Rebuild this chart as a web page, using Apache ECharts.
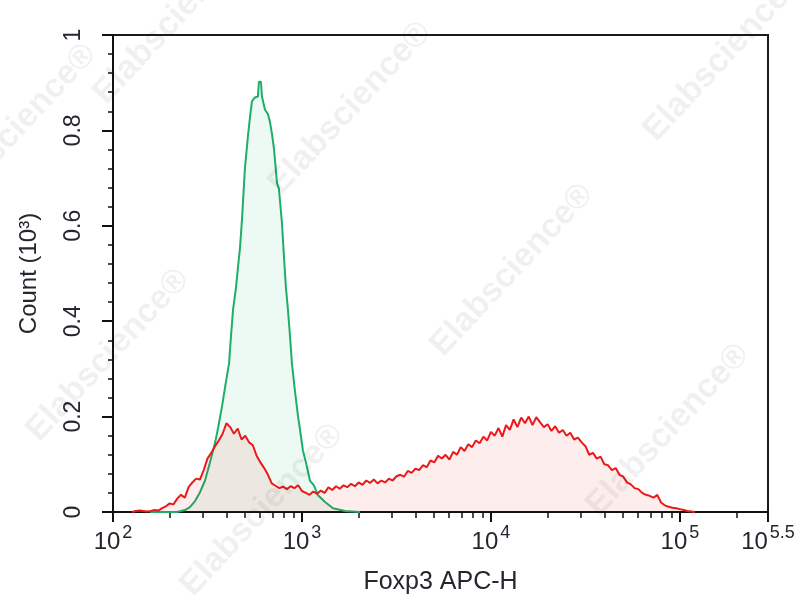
<!DOCTYPE html>
<html><head><meta charset="utf-8">
<script src="https://cdn.jsdelivr.net/npm/echarts@6/dist/echarts.min.js"></script>
<style>html,body{margin:0;padding:0;background:#fff}#c{width:804px;height:600px}</style>
</head><body><div id="c"></div>
<script>
// x positions are log10 of Foxp3 APC-H intensity
const X_MIN = 2;
const X_MAX = 5.466;           // right frame edge, labelled 10^5.5 in the reference
const xTickExponents = [2, 3, 4, 5, 5.466];
const xTickLabels = ['2', '3', '4', '5', '5.5'];
const yTickValues = [0, 0.2, 0.4, 0.6, 0.8, 1];

// isotype / control histogram (green)
const greenX = [2.196, 2.339, 2.381, 2.407, 2.434, 2.460, 2.487, 2.513, 2.540, 2.556, 2.577, 2.598, 2.614, 2.624, 2.635, 2.651, 2.661, 2.672, 2.683, 2.698, 2.714, 2.725, 2.735, 2.751, 2.767, 2.772, 2.783, 2.788, 2.804, 2.820, 2.831, 2.841, 2.852, 2.868, 2.878, 2.884, 2.894, 2.905, 2.915, 2.926, 2.937, 2.947, 2.963, 2.979, 2.989, 3.005, 3.021, 3.042, 3.063, 3.085, 3.122, 3.164, 3.228, 3.307];
const greenY = [0, 0, 0.004, 0.010, 0.023, 0.041, 0.066, 0.104, 0.145, 0.176, 0.222, 0.274, 0.311, 0.367, 0.423, 0.471, 0.512, 0.554, 0.616, 0.720, 0.788, 0.828, 0.861, 0.869, 0.871, 0.902, 0.902, 0.871, 0.844, 0.834, 0.817, 0.793, 0.761, 0.689, 0.678, 0.651, 0.606, 0.533, 0.471, 0.423, 0.367, 0.311, 0.253, 0.201, 0.174, 0.129, 0.104, 0.066, 0.056, 0.035, 0.021, 0.008, 0.002, 0];

// stained sample histogram (red)
const redX = [2.10, 2.12, 2.14, 2.16, 2.18, 2.20, 2.22, 2.24, 2.26, 2.28, 2.30, 2.32, 2.34, 2.36, 2.38, 2.40, 2.42, 2.44, 2.46, 2.48, 2.50, 2.52, 2.54, 2.56, 2.58, 2.60, 2.62, 2.64, 2.66, 2.68, 2.70, 2.72, 2.74, 2.76, 2.78, 2.80, 2.82, 2.84, 2.86, 2.88, 2.90, 2.92, 2.94, 2.96, 2.98, 3.00, 3.02, 3.04, 3.06, 3.08, 3.10, 3.12, 3.14, 3.16, 3.18, 3.20, 3.22, 3.24, 3.26, 3.28, 3.30, 3.32, 3.34, 3.36, 3.38, 3.40, 3.42, 3.44, 3.46, 3.48, 3.50, 3.52, 3.54, 3.56, 3.58, 3.60, 3.62, 3.64, 3.66, 3.68, 3.70, 3.72, 3.74, 3.76, 3.78, 3.80, 3.82, 3.84, 3.86, 3.88, 3.90, 3.92, 3.94, 3.96, 3.98, 4.00, 4.02, 4.04, 4.06, 4.08, 4.10, 4.12, 4.14, 4.16, 4.18, 4.20, 4.22, 4.24, 4.26, 4.28, 4.30, 4.32, 4.34, 4.36, 4.38, 4.40, 4.42, 4.44, 4.46, 4.48, 4.50, 4.52, 4.54, 4.56, 4.58, 4.60, 4.62, 4.64, 4.66, 4.68, 4.70, 4.72, 4.74, 4.76, 4.78, 4.80, 4.82, 4.84, 4.86, 4.88, 4.90, 4.92, 4.94, 4.96, 4.98, 5.00, 5.02, 5.04, 5.06, 5.08];
const redY = [0.000, 0.002, 0.003, 0.002, 0.001, 0.002, 0.004, 0.003, 0.008, 0.012, 0.018, 0.016, 0.028, 0.036, 0.030, 0.052, 0.062, 0.070, 0.068, 0.088, 0.112, 0.124, 0.138, 0.150, 0.164, 0.186, 0.178, 0.164, 0.175, 0.152, 0.160, 0.146, 0.140, 0.118, 0.104, 0.092, 0.078, 0.060, 0.055, 0.050, 0.053, 0.048, 0.054, 0.050, 0.056, 0.044, 0.040, 0.036, 0.043, 0.038, 0.045, 0.040, 0.052, 0.046, 0.054, 0.049, 0.056, 0.052, 0.059, 0.054, 0.062, 0.057, 0.066, 0.061, 0.068, 0.060, 0.066, 0.062, 0.070, 0.066, 0.075, 0.078, 0.074, 0.086, 0.082, 0.091, 0.088, 0.098, 0.094, 0.108, 0.104, 0.118, 0.112, 0.120, 0.110, 0.126, 0.120, 0.136, 0.128, 0.142, 0.136, 0.150, 0.144, 0.158, 0.150, 0.168, 0.160, 0.176, 0.158, 0.182, 0.172, 0.194, 0.178, 0.198, 0.186, 0.200, 0.182, 0.199, 0.188, 0.178, 0.184, 0.170, 0.180, 0.166, 0.172, 0.160, 0.166, 0.152, 0.156, 0.146, 0.138, 0.120, 0.124, 0.112, 0.116, 0.100, 0.098, 0.088, 0.092, 0.078, 0.074, 0.062, 0.058, 0.050, 0.048, 0.040, 0.036, 0.034, 0.030, 0.036, 0.020, 0.014, 0.011, 0.009, 0.008, 0.006, 0.004, 0.002, 0.001, 0];

const labelFont = "'Liberation Sans', Arial, sans-serif";
const textColor = '#26262e';

// minor log ticks (2..9 x 10^d) within the axis range
const minorTicks = [];
for (let d = 2; d <= 5; d++) {
  for (let k = 2; k <= 9; k++) {
    const v = d + Math.log10(k);
    if (v < X_MAX) minorTicks.push(v);
  }
}

const pairs = (xs, ys) => xs.map((x, i) => [x, ys[i]]);

const watermarkCenters = [
  [175, 18], [350, 108], [725, 55], [15, 130], [108, 355],
  [512, 270], [668, 430], [262, 510]
];

const chart = echarts.init(document.getElementById('c'));
chart.setOption({
  animation: false,
  backgroundColor: '#fff',
  grid: { left: 113, right: 36, top: 35, bottom: 83, show: true, borderColor: '#1a1a1a', borderWidth: 2, backgroundColor: 'transparent' },
  xAxis: [{
    type: 'value', min: X_MIN, max: X_MAX,
    axisLine: { show: true, onZero: false, lineStyle: { color: '#111', width: 2 } },
    axisTick: { show: true, customValues: xTickExponents, length: 10, inside: false, lineStyle: { color: '#111', width: 2 } },
    axisLabel: {
      customValues: xTickExponents, margin: 12, color: textColor,
      formatter: function (v) {
        let i = xTickExponents.findIndex(t => Math.abs(t - v) < 1e-6);
        if (i < 0) return '';
        return '{b|10}{s|' + xTickLabels[i] + '}';
      },
      rich: {
        b: { fontSize: 24, fontFamily: labelFont, color: textColor, verticalAlign: 'bottom', lineHeight: 30 },
        s: { fontSize: 18, fontFamily: labelFont, color: textColor, verticalAlign: 'bottom', padding: [0, 0, 12, 2], lineHeight: 30 }
      }
    },
    splitLine: { show: false },
    name: 'Foxp3 APC-H', nameLocation: 'middle', nameGap: 58,
    nameTextStyle: { fontSize: 25, fontFamily: labelFont, color: textColor }
  }, {
    type: 'value', min: X_MIN, max: X_MAX, position: 'bottom',
    axisLine: { show: false, onZero: false },
    axisTick: { show: true, customValues: minorTicks, length: 6, lineStyle: { color: '#111', width: 1.5 } },
    axisLabel: { show: false },
    splitLine: { show: false }
  }],
  yAxis: {
    type: 'value', min: 0, max: 1, interval: 0.2,
    axisLine: { show: true, lineStyle: { color: '#111', width: 2 } },
    axisTick: { show: true, length: 11, lineStyle: { color: '#111', width: 2 } },
    minorTick: { show: true, splitNumber: 5, length: 5, lineStyle: { color: '#111', width: 1.5 } },
    splitLine: { show: false }, minorSplitLine: { show: false },
    axisLabel: {
      rotate: 90, margin: 28, fontSize: 23, fontFamily: labelFont, color: textColor,
      formatter: v => String(Math.round(v * 10) / 10)
    },
    name: 'Count (10³)', nameLocation: 'middle', nameGap: 72,
    nameTextStyle: { fontSize: 24, fontFamily: labelFont, color: textColor }
  },
  series: [{
    name: 'control', type: 'line', xAxisIndex: 0, data: pairs(greenX, greenY),
    showSymbol: false, symbol: 'none', z: 2,
    lineStyle: { color: '#1fae68', width: 2 },
    areaStyle: { color: 'rgba(0,170,90,0.10)' }
  }, {
    name: 'Foxp3', type: 'line', xAxisIndex: 0, data: pairs(redX, redY),
    showSymbol: false, symbol: 'none', z: 3,
    lineStyle: { color: '#ea1a1a', width: 2 },
    areaStyle: { color: 'rgba(240,0,0,0.10)' }
  }],
  graphic: watermarkCenters.map(c => ({
    type: 'text', x: c[0], y: c[1], rotation: 47 * Math.PI / 180, silent: true, z: 100,
    style: { text: 'Elabscience®', fill: 'rgba(0,0,0,0.06)', font: "bold 34px 'Liberation Sans', Arial, sans-serif", align: 'center', verticalAlign: 'middle' }
  }))
});
</script>
</body></html>
